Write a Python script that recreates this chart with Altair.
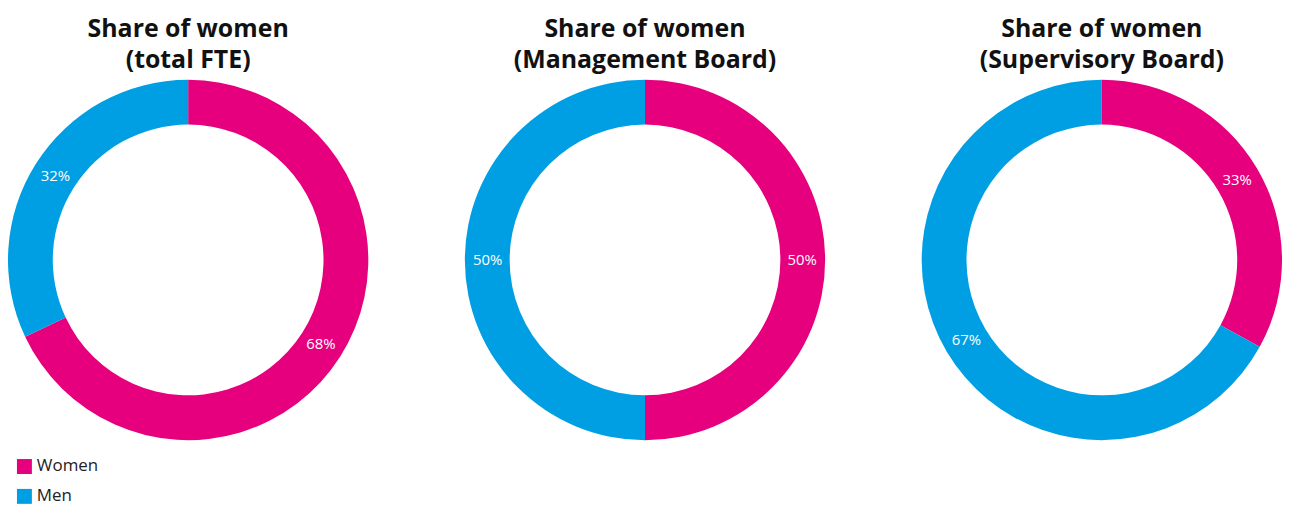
import altair as alt
import pandas as pd

panel_titles = [
    ["Share of women", "(total FTE)"],
    ["Share of women", "(Management Board)"],
    ["Share of women", "(Supervisory Board)"],
]
categories = ["Women", "Men"]
women_share = [68, 50, 33]
men_share = [32, 50, 67]
colors = ["#E6007E", "#009FE3"]

FONT = "Open Sans"

panels = []
for i, t in enumerate(panel_titles):
    df = pd.DataFrame({
        "Gender": categories,
        "Value": [women_share[i], men_share[i]],
        "Order": [0, 1],
    })
    df["Label"] = df["Value"].astype(str) + "%"
    base = alt.Chart(df).encode(
        theta=alt.Theta("Value:Q", stack=True),
        order=alt.Order("Order:Q"),
    )
    arcs = base.mark_arc(outerRadius=181, innerRadius=136).encode(
        color=alt.Color(
            "Gender:N",
            scale=alt.Scale(domain=categories, range=colors),
            sort=categories,
            legend=alt.Legend(
                title=None,
                orient="none",
                legendX=8,
                legendY=380,
                direction="vertical",
                symbolType="square",
                symbolSize=225,
                symbolStrokeWidth=0,
                labelFontSize=17,
                labelFont=FONT,
                labelColor="#222222",
                rowPadding=12,
                labelOffset=4,
            ),
        ),
    )
    labels = base.mark_text(radius=158, fontSize=15, font=FONT).encode(
        text="Label:N",
        color=alt.value("white"),
    )
    panels.append(
        alt.layer(arcs, labels).properties(
            width=362,
            height=362,
            title=alt.TitleParams(
                t,
                fontSize=25,
                font=FONT,
                fontWeight="bold",
                color="#111111",
                anchor="middle",
                lineHeight=31,
                offset=7,
            ),
        )
    )

chart = (
    alt.hconcat(*panels, spacing=97)
    .properties(padding={"left": 0, "top": 8, "right": 0, "bottom": 0})
    .configure_view(stroke=None)
)

chart.save("out.html", embed_options={"renderer": "svg", "actions": False})
